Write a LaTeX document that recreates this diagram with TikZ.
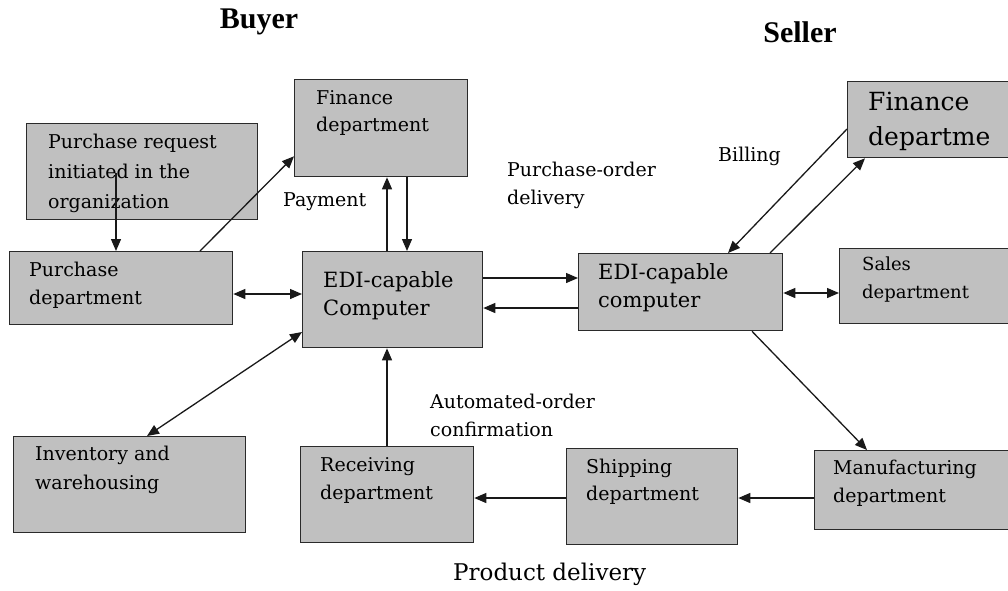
\documentclass[tikz,border=0pt]{standalone}
\usepackage{fontspec}
\setmainfont{DejaVu Serif}
\newfontfamily\ttlfont{Liberation Serif}
\usetikzlibrary{arrows.meta,calc}
\definecolor{boxgray}{HTML}{C0C0C0}
\definecolor{edgegray}{HTML}{2A2A2A}
\begin{document}
\begin{tikzpicture}[x=1pt,y=-1pt,
  box/.style={draw=edgegray,line width=1.3pt,fill=boxgray,inner sep=0pt,anchor=north west},
  txt/.style={inner sep=0pt,anchor=north west,align=left,text=black,font=\fontsize{19}{28}\selectfont},
  conn/.style={line width=1.3pt,draw=black!90,-{Triangle[length=12pt,width=10pt]}},
  dconn/.style={line width=1.3pt,draw=black!90,{Triangle[length=12pt,width=10pt]}-{Triangle[length=12pt,width=10pt]}},
  ttlstyle/.style={font=\ttlfont\bfseries\fontsize{30}{34}\selectfont,inner sep=0pt}]
\clip (0,0) rectangle (1008,590);
% boxes
\node[box,minimum width=231pt,minimum height=96pt] (req) at (26,123) {};
\node[box,minimum width=223pt,minimum height=73pt] (purch) at (9,251) {};
\node[box,minimum width=173pt,minimum height=97pt] (fin) at (294,79) {};
\node[box,minimum width=180pt,minimum height=96pt] (edi) at (302,251) {};
\node[box,minimum width=204pt,minimum height=77pt] (edis) at (578,253) {};
\node[box,minimum width=180pt,minimum height=76pt] (finS) at (847,81) {};
\node[box,minimum width=180pt,minimum height=75pt] (sales) at (839,248) {};
\node[box,minimum width=232pt,minimum height=96pt] (inv) at (13,436) {};
\node[box,minimum width=173pt,minimum height=96pt] (recv) at (300,446) {};
\node[box,minimum width=171pt,minimum height=96pt] (ship) at (566,448) {};
\node[box,minimum width=200pt,minimum height=79pt] (manu) at (814,450) {};
% box texts
\node[txt,font=\fontsize{19}{30}\selectfont] (treq) at (48,134) {Purchase request\\initiated in the\\organization};
\node[txt] (tpurch) at (29,262) {Purchase\\department};
\node[txt,font=\fontsize{19}{27}\selectfont] (tfin) at (316,90) {Finance\\department};
\node[txt,font=\fontsize{21}{28}\selectfont] (tedi) at (323,271) {EDI-capable\\Computer};
\node[txt,font=\fontsize{21}{28}\selectfont] (tedis) at (598,263) {EDI-capable\\computer};
\node[txt,font=\fontsize{25}{35}\selectfont] (tfinS) at (868,92) {Finance\\departme};
\node[txt,font=\fontsize{18}{28}\selectfont] (tsales) at (862,257) {Sales\\department};
\node[txt,font=\fontsize{19}{29}\selectfont] (tinv) at (35,446) {Inventory and\\warehousing};
\node[txt] (trecv) at (320,457) {Receiving\\department};
\node[txt,font=\fontsize{19}{27}\selectfont] (tship) at (586,459) {Shipping\\department};
\node[txt] (tmanu) at (833,460) {Manufacturing\\department};
% free labels
\node[txt] (lpay) at (283,192) {Payment};
\node[txt] (lpo) at (507,162) {Purchase-order\\delivery};
\node[txt] (lbill) at (718,147) {Billing};
\node[txt] (lauto) at (430,394) {Automated-order\\confirmation};
\node[txt,font=\fontsize{23}{28}\selectfont] (lprod) at (453,563) {Product delivery};
\node[ttlstyle] (buyer) at (259,22) {Buyer};
\node[ttlstyle] (seller) at (800,32) {Seller};
% connectors
\coordinate (reqsrc) at (116,173);
\draw[conn] (reqsrc) -- (reqsrc |- purch.north);
\draw[conn] ($(purch.north west)+(191,0)$) -- ($(fin.south west)+(0,-21)$);
\draw[dconn] (purch.east |- 0,294) -- (edi.west |- 0,294);
\draw[conn] (edi.north -| 387,0) -- (fin.south -| 387,0);
\draw[conn] (fin.south -| 407,0) -- (edi.north -| 407,0);
\draw[conn] (edi.east |- 0,278) -- (edis.west |- 0,278);
\draw[conn] (edis.west |- 0,308) -- (edi.east |- 0,308);
\draw[conn] (finS.west |- 0,129) -- (edis.north -| 728,0);
\draw[conn] (edis.north -| 770,0) -- (finS.south -| 865,0);
\draw[dconn] (edis.east |- 0,293) -- (sales.west |- 0,293);
\draw[conn] (edis.south -| 752,0) -- (manu.north -| 867,0);
\draw[conn] (manu.west |- 0,498) -- (ship.east |- 0,498);
\draw[conn] (ship.west |- 0,498) -- (recv.east |- 0,498);
\draw[conn] (recv.north -| 387,0) -- (edi.south -| 387,0);
\draw[dconn] (edi.west |- 0,332) -- (inv.north -| 147,0);
\end{tikzpicture}
\end{document}
